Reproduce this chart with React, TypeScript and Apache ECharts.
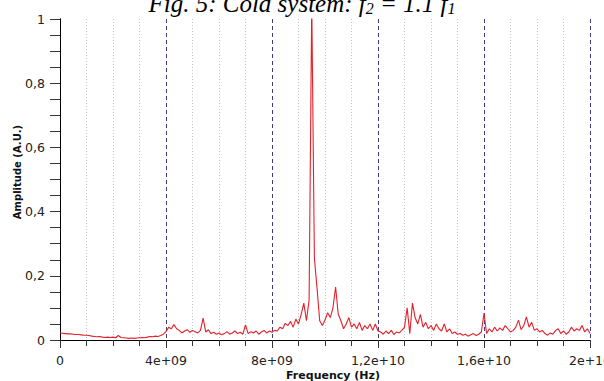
import React, { useEffect, useRef } from "react";
import * as echarts from "echarts";

const xMin = 0;
const xMax = 2e10;
const freqStep = 1e8;
const xTickLabels: Record<string, string> = {
  "0": "0",
  "4000000000": "4e+09",
  "8000000000": "8e+09",
  "12000000000": "1,2e+10",
  "16000000000": "1,6e+10",
  "20000000000": "2e+10",
};
const yTickLabels: Record<string, string> = {
  "0": "0",
  "0.2": "0,2",
  "0.4": "0,4",
  "0.6": "0,6",
  "0.8": "0,8",
  "1": "1",
};
// amplitude samples, one per 1e8 Hz from 0 to 2e10
const amplitude: number[] = [
  0.022, 0.021, 0.02, 0.019, 0.019, 0.018, 0.017, 0.017, 0.016, 0.015,
  0.015, 0.014, 0.012, 0.011, 0.01, 0.011, 0.009, 0.008, 0.009, 0.008,
  0.009, 0.007, 0.014, 0.008, 0.007, 0.006, 0.005, 0.006, 0.005, 0.006,
  0.007, 0.008, 0.007, 0.009, 0.011, 0.01, 0.012, 0.011, 0.014, 0.018,
  0.026, 0.04, 0.035, 0.048, 0.035, 0.03, 0.022, 0.028, 0.032, 0.024,
  0.03, 0.026, 0.022, 0.03, 0.068, 0.025, 0.032, 0.02, 0.024, 0.018,
  0.022, 0.016, 0.02, 0.026, 0.018, 0.022, 0.028, 0.02, 0.024, 0.018,
  0.047, 0.02, 0.026, 0.022, 0.028, 0.018, 0.025, 0.03, 0.022, 0.028,
  0.024, 0.03, 0.028, 0.04, 0.035, 0.052, 0.045, 0.058, 0.04, 0.065,
  0.05, 0.08, 0.115, 0.06, 0.125, 1.05, 0.255, 0.16, 0.06, 0.045,
  0.062, 0.085, 0.07, 0.1, 0.165, 0.08, 0.06, 0.035, 0.05, 0.07,
  0.04, 0.05, 0.035, 0.055, 0.03, 0.045, 0.035, 0.05, 0.03, 0.05,
  0.028, 0.025, 0.018, 0.028, 0.02, 0.03, 0.017, 0.025, 0.022, 0.03,
  0.04, 0.1, 0.02, 0.115, 0.07, 0.05, 0.08, 0.04, 0.055, 0.035,
  0.045, 0.03, 0.05, 0.035, 0.028, 0.05, 0.025, 0.035, 0.02, 0.025,
  0.018, 0.02, 0.015, 0.018, 0.012, 0.016, 0.02, 0.014, 0.018, 0.025,
  0.083, 0.02, 0.035, 0.025, 0.04, 0.028, 0.038, 0.03, 0.045, 0.035,
  0.025, 0.03, 0.04, 0.062, 0.032, 0.045, 0.072, 0.04, 0.055, 0.03,
  0.035, 0.025, 0.03, 0.02, 0.015, 0.022, 0.018, 0.03, 0.035, 0.02,
  0.028, 0.018, 0.025, 0.04, 0.028, 0.035, 0.03, 0.045, 0.025, 0.035,
  0.02,
];

const titleText = "{t|Fig. 5: Cold system: f}{s|2}{t| = 1.1 f}{s|1}";
const xName = "Frequency (Hz)";
const yName = "Amplitude (A.U.)";

export default function App() {
  const ref = useRef<HTMLDivElement>(null);
  useEffect(() => {
    if (!ref.current) return;
    const chart = echarts.init(ref.current, undefined, { renderer: "svg" });
    const points = amplitude.map((v, i) => [i * freqStep, v]);
    const tickFont = { fontFamily: "DejaVu Sans", fontSize: 12.5, color: "#222" };
    chart.setOption({
      animation: false,
      backgroundColor: "#fff",
      grid: { left: 60, right: 14, top: 19, bottom: 41, outerBoundsMode: "none", containLabel: false },
      xAxis: [
        {
          type: "value",
          position: "bottom",
          min: xMin,
          max: xMax,
          interval: 4e9,
          axisLine: { show: true, lineStyle: { color: "#000", width: 1 } },
          axisTick: { show: true, length: 8, lineStyle: { color: "#333" } },
          minorTick: { show: true, splitNumber: 4, length: 5, lineStyle: { color: "#333" } },
          axisLabel: {
            ...tickFont,
            margin: 14,
            hideOverlap: false,
            formatter: (v: number) => xTickLabels[String(v)] ?? String(v),
          },
          splitLine: { show: true, lineStyle: { color: "#3c3c82", type: [4, 3], width: 1 } },
          minorSplitLine: { show: true, lineStyle: { color: "#c4c4c4", type: [1, 2], width: 1 } },
        },
        {
          type: "value",
          position: "top",
          min: xMin,
          max: xMax,
          interval: 1e9,
          axisLine: { show: true, lineStyle: { color: "#000", width: 1 } },
          axisTick: { show: true, inside: true, length: 6, lineStyle: { color: "#333" } },
          axisLabel: { show: false },
          splitLine: { show: false },
        },
      ],
      yAxis: [
        {
          type: "value",
          position: "left",
          min: 0,
          max: 1,
          interval: 0.2,
          axisLine: { show: true, lineStyle: { color: "#000", width: 1 } },
          axisTick: { show: true, length: 10, lineStyle: { color: "#333" } },
          minorTick: { show: true, splitNumber: 4, length: 7, lineStyle: { color: "#333" } },
          axisLabel: {
            ...tickFont,
            margin: 15,
            formatter: (v: number) => yTickLabels[String(Math.round(v * 10) / 10)] ?? String(v),
          },
          splitLine: { show: false },
        },
        {
          type: "value",
          position: "right",
          min: 0,
          max: 1,
          interval: 0.05,
          axisLine: { show: true, lineStyle: { color: "#000", width: 1 } },
          axisTick: { show: true, inside: true, length: 10, lineStyle: { color: "#333" } },
          axisLabel: { show: false },
          splitLine: { show: false },
        },
      ],
      series: [
        {
          type: "line",
          xAxisIndex: 0,
          yAxisIndex: 0,
          data: points,
          showSymbol: false,
          clip: true,
          lineStyle: { color: "#e4202a", width: 1.1 },
          itemStyle: { color: "#e4202a" },
        },
      ],
      graphic: [
        {
          type: "text",
          x: 302,
          y: 16,
          style: {
            text: titleText,
            align: "center",
            verticalAlign: "bottom",
            rich: {
              t: { fontFamily: "Liberation Serif", fontStyle: "italic", fontSize: 25, fill: "#000" },
              s: { fontFamily: "Liberation Serif", fontStyle: "italic", fontSize: 16, fill: "#000", padding: [10, 0, 0, 0] },
            },
          },
        },
        {
          type: "text",
          x: 333,
          y: 375.5,
          style: {
            text: xName,
            align: "center",
            verticalAlign: "middle",
            fontFamily: "DejaVu Sans",
            fontWeight: "bold",
            fontSize: 11,
            fill: "#111",
          },
        },
        {
          type: "text",
          x: 17,
          y: 172,
          rotation: Math.PI / 2,
          style: {
            text: yName,
            align: "center",
            verticalAlign: "middle",
            fontFamily: "DejaVu Sans",
            fontWeight: "bold",
            fontSize: 10,
            fill: "#111",
          },
        },
      ],
    });
    return () => chart.dispose();
  }, []);
  return (
    <div
      ref={ref}
      style={{ position: "absolute", left: 0, top: 0, width: 604, height: 381 }}
    />
  );
}
